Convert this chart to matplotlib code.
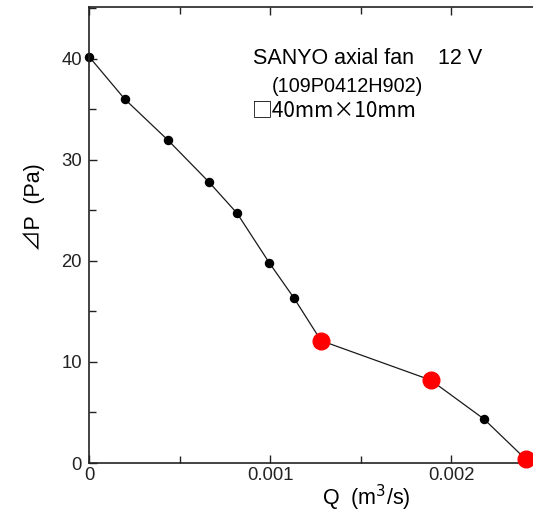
"""
SANYO axial fan P-Q curve
"""

import matplotlib.pyplot as plt
from matplotlib.ticker import MultipleLocator

plt.rcParams['font.family'] = ['Liberation Sans', 'Noto Sans CJK JP', 'DejaVu Sans']

# data
q_vals = [0.0, 0.000197, 0.000438, 0.000662, 0.000818, 0.000996, 0.001133,
          0.001282, 0.001888, 0.002182, 0.002414]
dp_vals = [40.2, 36.0, 31.9, 27.8, 24.7, 19.8, 16.3, 12.1, 8.2, 4.35, 0.35]
red_q = [0.001282, 0.001888, 0.002414]
red_dp = [12.1, 8.2, 0.35]

title_lines = ["SANYO axial fan    12 V", "(109P0412H902)", "□40mm×10mm"]

fig = plt.figure(figsize=(5.33, 5.15), dpi=100)
ax = fig.add_axes([89 / 533, 1 - 463 / 515, 1 - 89 / 533, (463 - 7) / 515])

ax.plot(q_vals, dp_vals, color='#1a1a1a', lw=0.9, marker='o', ms=5.8,
        mfc='black', mec='black', zorder=2, clip_on=False)
ax.plot(red_q, red_dp, 'o', color='#ff0000', ms=12, mec='#ff0000',
        zorder=3, clip_on=False)

ax.set_xlim(0, 0.002453)
ax.set_ylim(0, 45.1)
ax.xaxis.set_minor_locator(MultipleLocator(0.0005))
ax.yaxis.set_major_locator(MultipleLocator(10))
ax.yaxis.set_minor_locator(MultipleLocator(5))
ax.set_xticks([0, 0.001, 0.002])
ax.set_xticklabels(['0', '0.001', '0.002'])

ax.tick_params(which='both', direction='in', top=True, right=False,
               labelsize=13.3, width=1.0, colors='#222222', pad=3)
ax.tick_params(which='major', length=6)
ax.tick_params(which='minor', length=5)
ax.tick_params(axis='y', pad=5)
ax.spines['right'].set_visible(False)
for s in ['left', 'bottom', 'top']:
    ax.spines[s].set_linewidth(1.2)
    ax.spines[s].set_color('#222222')

fig.text(366 / 533, 1 - 498 / 515, "Q  (m$^3$/s)", fontsize=15.5,
         ha='center', va='center')
fig.text(34 / 533, 1 - 207 / 515, "⊿P  (Pa)", fontsize=15.5, rotation=90,
         ha='center', va='center')

fig.text(253 / 533, 1 - 58 / 515, title_lines[0], fontsize=15.5, va='center')
fig.text(272 / 533, 1 - 86 / 515, title_lines[1], fontsize=14.3, va='center')
fig.text(252 / 533, 1 - 110 / 515, title_lines[2], fontsize=15, va='center',
         family=['Noto Sans CJK JP', 'DejaVu Sans'])

fig.savefig('out.png', dpi=100)
plt.close(fig)
